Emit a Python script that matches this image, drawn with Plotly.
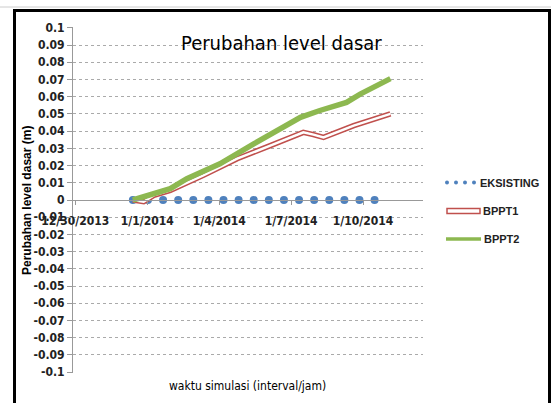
import plotly.graph_objects as go

# ---- data ----
tick_pos = [0, 1, 2, 3, 4]
tick_labels = ["12/30/2013", "1/1/2014", "1/4/2014", "1/7/2014", "1/10/2014"]

eks_x = [0.80, 1.01, 1.22, 1.43, 1.64, 1.85, 2.06, 2.27, 2.48, 2.69, 2.90, 3.11, 3.32, 3.53, 3.74, 3.95, 4.16]
eks_y = [0, 0, 0, 0, 0, 0, 0, 0, 0, 0, 0, 0, 0, 0, 0, 0, 0]

b1_x = [0.80, 0.95, 1.09, 1.32, 1.78, 2.25, 2.71, 3.17, 3.31, 3.45, 3.87, 4.38]
b1_y = [0, -0.001, 0.0027, 0.0056, 0.0143, 0.024, 0.0316, 0.0393, 0.038, 0.0364, 0.0432, 0.050]

b2_x = [0.80, 1.00, 1.32, 1.55, 2.01, 2.48, 2.85, 3.13, 3.40, 3.77, 3.96, 4.38]
b2_y = [0, 0.0025, 0.0066, 0.0124, 0.021, 0.0326, 0.0413, 0.048, 0.052, 0.0567, 0.0615, 0.0705]

y_vals = [0.1, 0.09, 0.08, 0.07, 0.06, 0.05, 0.04, 0.03, 0.02, 0.01, 0,
          -0.01, -0.02, -0.03, -0.04, -0.05, -0.06, -0.07, -0.08, -0.09, -0.1]
y_labels = ["0.1", "0.09", "0.08", "0.07", "0.06", "0.05", "0.04", "0.03", "0.02", "0.01", "0",
            "-0.01", "-0.02", "-0.03", "-0.04", "-0.05", "-0.06", "-0.07", "-0.08", "-0.09", "-0.1"]

BLUE = "#4F81BD"
RED = "#C0504D"
GREEN = "#8DB850"
NARROW = "DejaVu Sans Condensed, Liberation Sans Narrow, sans-serif"
ARIAL = "Liberation Sans, Arial, sans-serif"

W, H = 551, 403
L, R, T, B = 73, 128, 27, 30
PW, PH = W - L - R, H - T - B


def px(x):
    return (x - L) / PW


def py(y):
    return (H - B - y) / PH


fig = go.Figure()
fig.add_trace(go.Scatter(x=eks_x, y=eks_y, mode="markers", name="EKSISTING",
                         marker=dict(color=BLUE, size=8), showlegend=False))
fig.add_trace(go.Scatter(x=b1_x, y=b1_y, mode="lines", name="BPPT1",
                         line=dict(color=RED, width=5.5), showlegend=False))
fig.add_trace(go.Scatter(x=b1_x, y=b1_y, mode="lines", name="BPPT1 inner",
                         line=dict(color="white", width=2.5), showlegend=False, hoverinfo="skip"))
fig.add_trace(go.Scatter(x=b2_x, y=b2_y, mode="lines", name="BPPT2",
                         line=dict(color=GREEN, width=5.5), showlegend=False))

shapes = []
# outer border
shapes.append(dict(type="rect", xref="paper", yref="paper",
                   x0=px(14.5), x1=px(549.5), y0=py(420), y1=py(10.5),
                   line=dict(color="black", width=3), layer="above"))
shapes.append(dict(type="line", xref="paper", yref="paper",
                   x0=px(0), x1=px(551), y0=py(7), y1=py(7),
                   line=dict(color="#cccccc", width=1)))
# manual legend
for cx in [447, 456, 465, 474]:
    shapes.append(dict(type="circle", xref="paper", yref="paper",
                       x0=px(cx - 2), x1=px(cx + 2), y0=py(184.5), y1=py(180.5),
                       fillcolor=BLUE, line=dict(width=0)))
shapes.append(dict(type="rect", xref="paper", yref="paper",
                   x0=px(447), x1=px(480), y0=py(213.5), y1=py(208.5),
                   fillcolor="white", line=dict(color=RED, width=1.5)))
shapes.append(dict(type="line", xref="paper", yref="paper",
                   x0=px(446), x1=px(481), y0=py(239), y1=py(239),
                   line=dict(color=GREEN, width=3.5)))

annotations = [
    dict(text="Perubahan level dasar", xref="paper", yref="paper",
         x=px(281.5), y=py(43), xanchor="center", yanchor="middle", showarrow=False,
         font=dict(family=NARROW, size=20, color="black")),
    dict(text="<b>Perubahan level dasar (m)</b>", xref="paper", yref="paper",
         x=px(27), y=py(201), xanchor="center", yanchor="middle", showarrow=False,
         textangle=-90, font=dict(family=ARIAL, size=12, color="black")),
    dict(text="waktu simulasi (interval/jam)", xref="paper", yref="paper",
         x=px(247), y=py(386), xanchor="center", yanchor="middle", showarrow=False,
         font=dict(family=NARROW, size=12, color="black")),
    dict(text="<b>EKSISTING</b>", xref="paper", yref="paper",
         x=px(478), y=py(182.5), xanchor="left", yanchor="middle", showarrow=False,
         font=dict(family=ARIAL, size=11, color="#222")),
    dict(text="<b>BPPT1</b>", xref="paper", yref="paper",
         x=px(481), y=py(211), xanchor="left", yanchor="middle", showarrow=False,
         font=dict(family=ARIAL, size=11, color="#222")),
    dict(text="<b>BPPT2</b>", xref="paper", yref="paper",
         x=px(482), y=py(239), xanchor="left", yanchor="middle", showarrow=False,
         font=dict(family=ARIAL, size=11, color="#222")),
]

fig.update_layout(
    width=W, height=H,
    margin=dict(l=L, r=R, t=T, b=B, pad=0),
    paper_bgcolor="white", plot_bgcolor="white",
    showlegend=False,
    shapes=shapes,
    annotations=annotations,
    xaxis=dict(range=[-0.032, 4.833], tickvals=tick_pos, ticktext=tick_labels,
               anchor="free", position=0.5, showline=True, linecolor="#999999", linewidth=1,
               ticks="outside", ticklen=4, tickcolor="#999999", showgrid=False, zeroline=False,
               ticklabelstandoff=6, automargin=False,
               tickfont=dict(family=NARROW, size=12, color="#222", weight="bold"), domain=[0, 1]),
    yaxis=dict(range=[-0.1005, 0.1005], tickvals=y_vals, ticktext=y_labels,
               showline=True, linecolor="#999999", linewidth=1,
               ticks="outside", ticklen=5, tickcolor="#999999",
               showgrid=True, gridcolor="#aaaaaa", griddash="dot", gridwidth=1,
               zeroline=False, automargin=False,
               tickfont=dict(family=NARROW, size=12, color="#222", weight="bold"), domain=[0, 1]),
)

fig.write_html("out.html", config={"displayModeBar": False},
               post_script="document.body.style.margin='0';")
